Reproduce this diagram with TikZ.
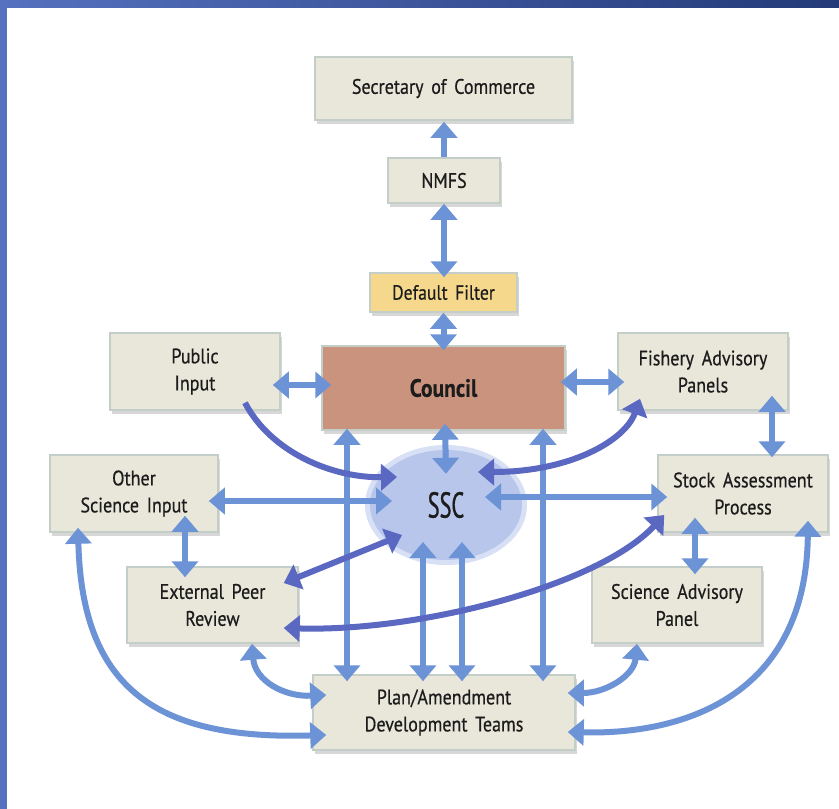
\documentclass[tikz,border=0pt]{standalone}
\usepackage{fontspec}
\setmainfont{PT Sans}[FakeStretch=0.86, WordSpace=1.6, FakeBold=0.5]
\newfontfamily\sscfont{PT Sans}[FakeStretch=0.62, FakeBold=0.8]
\usetikzlibrary{arrows.meta,shadows,calc,shapes.geometric}
\definecolor{boxfill}{HTML}{E9E7DA}
\definecolor{boxline}{HTML}{C3CEC9}
\definecolor{councilc}{HTML}{C9937E}
\definecolor{filterc}{HTML}{F5D88C}
\definecolor{sscfill}{HTML}{B7C6EA}
\definecolor{arrl}{HTML}{6C93D6}
\definecolor{arrd}{HTML}{5A68C2}
\definecolor{barl}{HTML}{5571BF}
\definecolor{barr}{HTML}{243A78}
\definecolor{txt}{HTML}{1C1C1C}
\tikzset{
  twoway/.style={{Triangle[width=26pt 0,length=16pt 0]}-{Triangle[width=26pt 0,length=16pt 0]}},
  oneway/.style={-{Triangle[width=26pt 0,length=16pt 0]}},
  boxbase/.style={draw=boxline, line width=1.5pt, inner sep=0pt, align=center,
    text=txt, font=\fontsize{21}{27}\selectfont,
    drop shadow={shadow xshift=2pt, shadow yshift=-4pt, opacity=0.22, fill=black!70}},
  box/.style={boxbase, fill=boxfill},
  al/.style={draw=arrl, line width=6pt},
  ad/.style={draw=arrd, line width=6pt},
}
\begin{document}
\begin{tikzpicture}[x=1pt,y=-1pt]
\fill[white] (0,0) rectangle (839,809);
\useasboundingbox (0,0) rectangle (839,809);
\shade[left color=barl, right color=barr] (0,0) rectangle (839,7);
\fill[barl] (0,0) rectangle (7,809);

% nodes
\node[box, minimum width=257pt, minimum height=63pt] (sec) at (443.5,88.5) {Secretary of Commerce};
\node[box, minimum width=112pt, minimum height=45pt] (nmfs) at (444,180.5) {NMFS};
\node[boxbase, fill=filterc, minimum width=147pt, minimum height=39pt, font=\fontsize{20.5}{22}\selectfont] (filter) at (443.5,292.5) {Default Filter};
\node[boxbase, fill=councilc, minimum width=243pt, minimum height=84pt, font=\fontsize{25}{28}\selectfont\bfseries] (council) at (443.5,388) {\raisebox{-8pt}{Council}};
\node[box, minimum width=170pt, minimum height=77pt] (pub) at (195,371.5) {Public\\Input};
\node[box, minimum width=170pt, minimum height=77pt] (fish) at (703,371.5) {Fishery Advisory\\Panels};
\node[box, minimum width=168pt, minimum height=77pt] (other) at (134,493.5) {Other\\Science Input};
\node[box, minimum width=170pt, minimum height=77pt] (stock) at (743,493.5) {Stock Assessment\\Process};
\fill[sscfill!55!white] (446,505) ellipse [x radius=81, y radius=60];
\node[ellipse, fill=sscfill, minimum width=152pt, minimum height=110pt, inner sep=0pt, text=txt, font=\sscfont\fontsize{36}{36}\selectfont] (ssc) at (446,505) {SSC};
\node[box, minimum width=171pt, minimum height=76pt] (epr) at (212.5,605) {External Peer\\Review};
\node[box, minimum width=170pt, minimum height=76pt] (sap) at (677,605) {Science Advisory\\Panel};
\node[box, minimum width=262pt, minimum height=75pt] (plan) at (444,712.5) {Plan/Amendment\\Development Teams};

% vertical chain
\draw[al,oneway] (nmfs.north) -- ($(nmfs.north |- sec.south)+(0,1)$);
\draw[al,twoway] (nmfs.south) -- ($(nmfs.south |- filter.north)+(0,5)$);
\draw[al,twoway] (filter.south) -- ($(filter.south |- council.north)+(0,5)$);

% council connections
\draw[al,twoway] ($(pub.east)+(-8,13.5)$) -- ($(council.west)+(10,-3)$);
\draw[al,twoway] ($(council.east)+(-5,-6)$) -- ($(fish.west)+(7,10.5)$);
\draw[al,twoway] ($(council.south)+(1.5,-7)$) -- ($(ssc.north)+(0,24)$);
\draw[al,twoway] ($(council.south)+(-96.5,-2)$) -- ($(plan.north)+(-97,7)$);
\draw[al,twoway] ($(council.south)+(99.5,-2)$) -- ($(plan.north)+(99,7)$);

% ssc connections
\draw[al,twoway] ($(other.east)+(-10,7.5)$) -- ($(ssc.center)+(-54,-4)$);
\draw[al,twoway] ($(ssc.center)+(39,-8)$) -- ($(stock.west)+(10,3.5)$);
\draw[al,twoway] ($(ssc.center)+(-23,37)$) -- ($(plan.north)+(-21,7)$);
\draw[al,twoway] ($(ssc.center)+(16,37)$) -- ($(plan.north)+(18,7)$);
\draw[ad,oneway] ($(pub.south)+(50,-8)$) .. controls ($(pub.south)+(75,40)$) and ($(ssc.center)+(-116,-27)$) .. ($(ssc.center)+(-49,-28)$);
\draw[ad,twoway] ($(ssc.center)+(32,-33)$) .. controls ($(ssc.center)+(124,-33)$) and ($(fish.south)+(-78,30)$) .. ($(fish.south)+(-63,-12)$);
\draw[ad,twoway] ($(ssc.center)+(-44,30)$) -- ($(epr.east)+(-15,-22)$);

% side connections
\draw[al,twoway] ($(fish.south)+(69,-15)$) -- ($(stock.north)+(29,3)$);
\draw[al,twoway] ($(other.south)+(51,-17)$) -- ($(epr.north)+(-27.5,11)$);
\draw[al,twoway] ($(stock.south)+(-48,-15)$) -- ($(sap.north)+(18,8)$);
\draw[ad,twoway] ($(epr.east)+(-15,23)$) .. controls ($(epr.east)+(122,27)$) and ($(stock.west)+(-58,91.5)$) .. ($(stock.west)+(7,21.5)$);

% curves to plan
\draw[al,twoway] ($(epr.south)+(39.5,0)$) .. controls ($(epr.south)+(42.5,37)$) and ($(plan.west)+(-28,-15.5)$) .. ($(plan.west)+(14,-17.5)$);
\draw[al,twoway] ($(sap.south)+(-40,0)$) .. controls ($(sap.south)+(-43,32)$) and ($(plan.east)+(30,-19.5)$) .. ($(plan.east)+(-8,-19.5)$);
\draw[al,twoway] ($(other.south)+(-56,-5)$) .. controls ($(other.south)+(-52,158)$) and ($(plan.west)+(-153,27.5)$) .. ($(plan.west)+(14,22.5)$);
\draw[al,twoway] ($(stock.south)+(65,-12)$) .. controls ($(stock.south)+(63,158)$) and ($(plan.east)+(115,22.5)$) .. ($(plan.east)+(-8,19.5)$);
\end{tikzpicture}
\end{document}
